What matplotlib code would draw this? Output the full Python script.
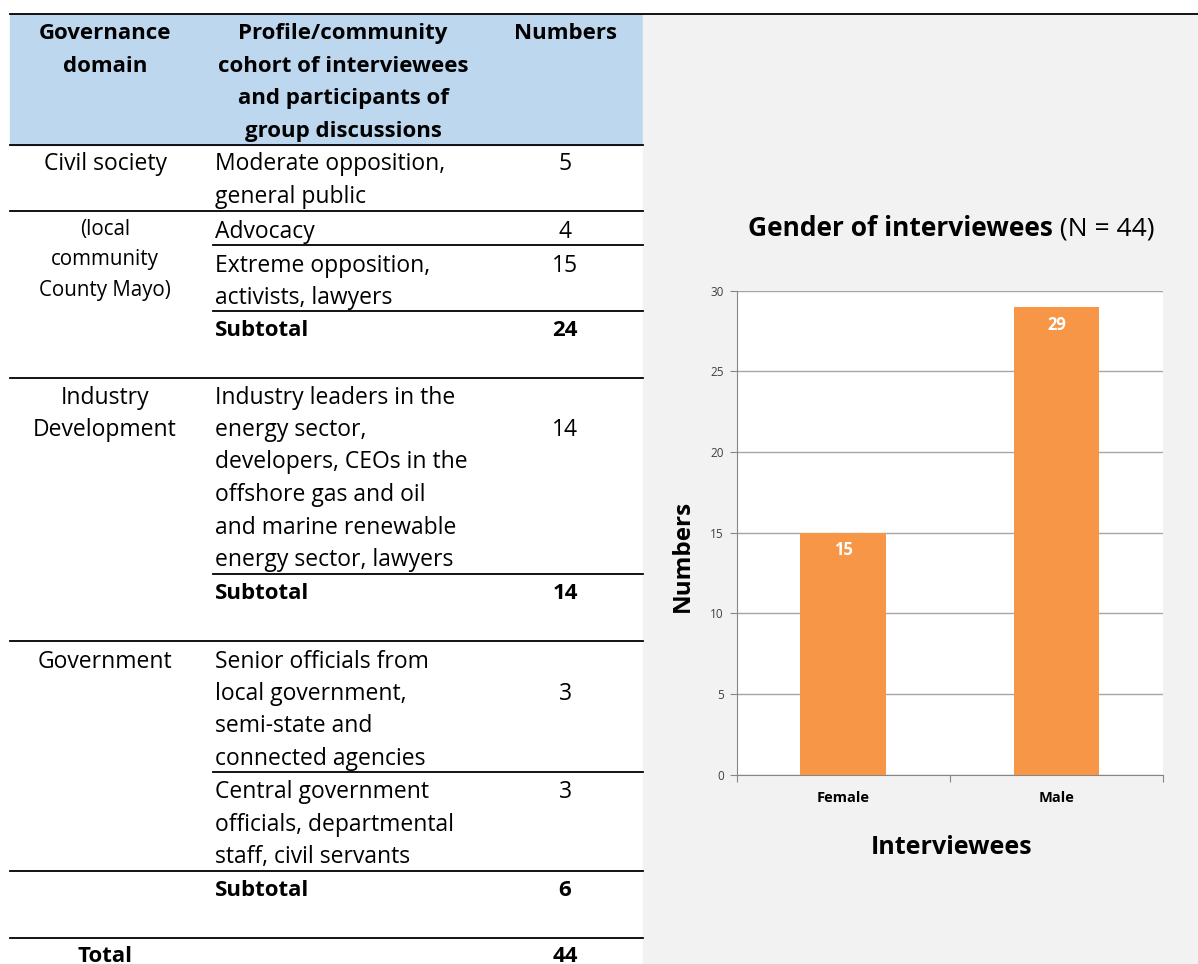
import matplotlib.pyplot as plt
from matplotlib.patches import Rectangle

# --- table contents ---
header_domain = ["Governance", "domain"]
header_profile = ["Profile/community", "cohort of interviewees",
                  "and participants of", "group discussions"]
header_numbers = "Numbers"

domains = [["Civil society"], ["(local", "community", "County Mayo)"],
           ["Industry", "Development"], ["Government"]]
profiles = [
    ["Moderate opposition,", "general public"],
    ["Advocacy"],
    ["Extreme opposition,", "activists, lawyers"],
    ["Industry leaders in the", "energy sector,", "developers, CEOs in the",
     "offshore gas and oil", "and marine renewable", "energy sector, lawyers"],
    ["Senior officials from", "local government,", "semi-state and",
     "connected agencies"],
    ["Central government", "officials, departmental", "staff, civil servants"],
]
profile_numbers = [5, 4, 15, 14, 3, 3]
subtotals = [24, 14, 6]
total = 44

# --- chart data ---
genders = ["Female", "Male"]
counts = [15, 29]

W, H = 1198, 964
FONT = "Open Sans"
BAR = "#F79646"
REG, BOLD = 16.5, 16
DY = 1.5  # nudge table text down a touch

fig = plt.figure(figsize=(W / 100, H / 100), dpi=100)
fig.patch.set_facecolor("white")

# overlay in pixel units for the table and panel
lay = fig.add_axes([0, 0, 1, 1])
lay.set_xlim(0, W)
lay.set_ylim(H, 0)
lay.axis("off")

# header band and grey chart panel
lay.add_patch(Rectangle((10, 14), 633, 131, color="#BDD7EE", zorder=0))
lay.add_patch(Rectangle((643, 15), W - 643, H - 15, color="#F2F2F2", zorder=0))
lay.plot([10, W], [14, 14], color="black", lw=1.3)


def hline(y, x0=10, x1=643):
    lay.plot([x0, x1], [y, y], color="black", lw=1.3)


def cell(x, y, s, ha="left", bold=False, size=None):
    if size is None:
        size = BOLD if bold else REG
    lay.text(x, y + DY, s, ha=ha, va="center", fontsize=size, family=FONT,
             fontweight="bold" if bold else "normal", color="black")


COL1, COL2, COL3 = 105, 215, 565
STEP = 32.5

# header
for i, s in enumerate(header_domain):
    cell(COL1, 32 + i * STEP, s, ha="center", bold=True)
for i, s in enumerate(header_profile):
    cell(343, 32 + i * STEP, s, ha="center", bold=True)
cell(COL3, 32, header_numbers, ha="center", bold=True)
hline(145)

# domain labels
domain_pos = [163, 228, 396, 660]
domain_step = [STEP, 30.5, STEP, STEP]
for lines, y0, st in zip(domains, domain_pos, domain_step):
    for i, s in enumerate(lines):
        cell(COL1, y0 + i * st, s, ha="center",
             size=14.8 if lines[0].startswith("(") else None)

# profile rows
row_top = [163, 230, 264, 396, 660, 791]
num_line = [0, 0, 0, 1, 1, 0]
for lines, y0, n, k in zip(profiles, row_top, profile_numbers, num_line):
    for i, s in enumerate(lines):
        cell(COL2, y0 + i * STEP, s)
    cell(COL3, y0 + k * STEP, str(n), ha="center")

# subtotals and total
for y, v in zip([329, 592, 889], subtotals):
    cell(COL2, y, "Subtotal", bold=True)
    cell(COL3, y, str(v), ha="center", bold=True)
cell(COL1, 955, "Total", ha="center", bold=True)
cell(COL3, 955, str(total), ha="center", bold=True)

# rules between rows
for y in [211, 378, 641, 871, 938]:
    hline(y)
for y in [245, 311, 574, 772]:
    hline(y, 213)

# --- bar chart ---
x0, x1, ytop, ybot = 736.5, 1163, 290.7, 774.7
ax = fig.add_axes([x0 / W, (H - ybot) / H, (x1 - x0) / W, (ybot - ytop) / H])
ax.set_facecolor("white")
pos = range(len(genders))
bars = ax.bar(pos, counts, width=0.4, color=BAR, zorder=3)
ax.set_xlim(-0.5, len(genders) - 0.5)
ax.set_ylim(0, 30)
ax.set_yticks(range(0, 31, 5))
ax.yaxis.grid(True, color="#A6A6A6", lw=1.0, zorder=0)
for sp in ["top", "right"]:
    ax.spines[sp].set_visible(False)
for sp in ["left", "bottom"]:
    ax.spines[sp].set_color("#868686")
ax.tick_params(axis="y", length=5, color="#868686", labelsize=8.5,
               labelcolor="#404040", pad=4)
ax.set_xticks([-0.5, 0.5, 1.5])
ax.set_xticklabels([])
ax.tick_params(axis="x", length=5, color="#868686")
for p, g in zip(pos, genders):
    ax.text(p, -1.45, g, ha="center", va="center", fontsize=10.5,
            fontweight="bold", family=FONT)
for p, v in zip(pos, counts):
    ax.text(p, v - 1.1, str(v), ha="center", va="center", color="white",
            fontsize=12, fontweight="bold", family=FONT)

for lab in ax.get_yticklabels():
    lab.set_family(FONT)

lay.text(683, 556, "Numbers", rotation=90, ha="center", va="center",
         fontsize=17.5, fontweight="bold", family=FONT)
lay.text(952, 847, "Interviewees", ha="center", va="center",
         fontsize=18, fontweight="bold", family=FONT)

# title: bold part followed by regular part, centred together
fig.canvas.draw()
r = fig.canvas.get_renderer()
t1 = lay.text(0, 229, "Gender of interviewees", ha="left", va="center",
              fontsize=19, fontweight="bold", family=FONT)
t2 = lay.text(0, 229, " (N = 44)", ha="left", va="center",
              fontsize=19, family=FONT)
w1 = t1.get_window_extent(r).width
w2 = t2.get_window_extent(r).width
start = 951.5 - (w1 + w2) / 2
t1.set_x(start)
t2.set_x(start + w1)

fig.savefig("out.png", dpi=100)
